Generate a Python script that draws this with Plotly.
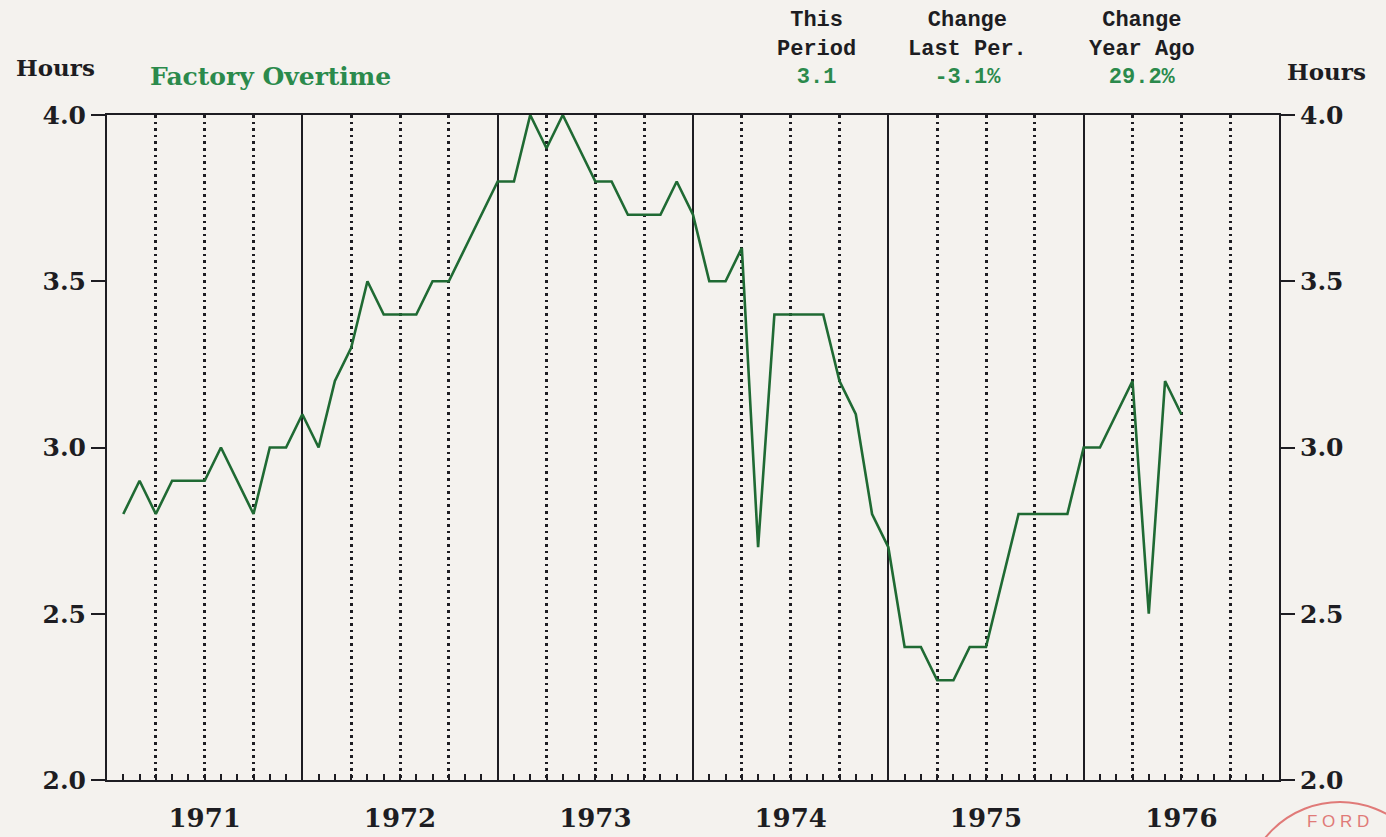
import plotly.graph_objects as go

# ---------------- data ----------------
start_year = 1971
start_month = 2  # first observation: Feb 1971
overtime_hours = [
    # 1971 (Feb-Dec)
    2.8, 2.9, 2.8, 2.9, 2.9, 2.9, 3.0, 2.9, 2.8, 3.0, 3.0,
    # 1972
    3.1, 3.0, 3.2, 3.3, 3.5, 3.4, 3.4, 3.4, 3.5, 3.5, 3.6, 3.7,
    # 1973
    3.8, 3.8, 4.0, 3.9, 4.0, 3.9, 3.8, 3.8, 3.7, 3.7, 3.7, 3.8,
    # 1974
    3.7, 3.5, 3.5, 3.6, 2.7, 3.4, 3.4, 3.4, 3.4, 3.2, 3.1, 2.8,
    # 1975
    2.7, 2.4, 2.4, 2.3, 2.3, 2.4, 2.4, 2.6, 2.8, 2.8, 2.8, 2.8,
    # 1976 (Jan-Jul)
    3.0, 3.0, 3.1, 3.2, 2.5, 3.2, 3.1,
]
year_labels = ["1971", "1972", "1973", "1974", "1975", "1976"]
y_ticks = [2.0, 2.5, 3.0, 3.5, 4.0]
series_name = "Factory Overtime"
unit_label = "Hours"
header_line1 = ["This", "Change", "Change"]
header_line2 = ["Period", "Last Per.", "Year Ago"]

# ---------------- derived ----------------
x_vals = [start_year + (start_month - 1 + i) / 12.0 for i in range(len(overtime_hours))]
last = overtime_hours[-1]
prev = overtime_hours[-2]
year_ago = overtime_hours[-13]
stat_values = [
    f"{last:.1f}",
    f"{(last / prev - 1) * 100:.1f}%",
    f"{(last / year_ago - 1) * 100:.1f}%",
]
label_pos = [int(y) + 0.5 for y in year_labels]

# ---------------- style ----------------
W, H = 1386, 837
L, R, T, B = 107, 107, 115, 57
BG = "#f4f2ee"
INK = "#1d1d22"
GREEN_LINE = "#1f6a33"
GREEN_TEXT = "#2b8a4c"
SERIF = "DejaVu Serif"
MONO = "Liberation Mono"


def px_x(px):
    return (px - L) / (W - L - R)


def px_y(py):
    return (H - B - py) / (H - T - B)


fig = go.Figure()
fig.add_trace(go.Scatter(
    x=x_vals, y=overtime_hours, mode="lines",
    line=dict(color=GREEN_LINE, width=2.6),
    name=series_name, showlegend=False, hoverinfo="x+y",
))
# empty helper traces so that the overlay axes (quarter grid, right scale) are drawn
fig.add_trace(go.Scatter(x=[None], y=[None], xaxis="x2", yaxis="y", mode="lines",
                         showlegend=False, hoverinfo="skip"))
fig.add_trace(go.Scatter(x=[None], y=[None], xaxis="x", yaxis="y2", mode="lines",
                         showlegend=False, hoverinfo="skip"))

x_range = [start_year, start_year + len(year_labels)]
tick_font = dict(family=SERIF, size=25, color=INK, weight="bold")
fig.update_layout(
    width=W, height=H,
    margin=dict(l=L, r=R, t=T, b=B, pad=0, autoexpand=False),
    paper_bgcolor=BG, plot_bgcolor=BG,
    showlegend=False,
    xaxis=dict(
        range=x_range, showgrid=False, zeroline=False, automargin=False,
        tickmode="array", tickvals=label_pos, ticktext=year_labels,
        ticks="inside", ticklen=6, tickwidth=1.5, tickcolor=INK,
        ticklabelstandoff=14,
        tickfont=dict(family=SERIF, size=26, color=INK, weight="bold"),
        showline=True, linecolor=INK, linewidth=2, mirror=True,
        minor=dict(tick0=start_year, dtick=1 / 12, ticks="inside", ticklen=6,
                   tickwidth=1.5, tickcolor=INK, showgrid=False),
    ),
    xaxis2=dict(
        range=x_range, overlaying="x", anchor="y", side="bottom", automargin=False,
        tickmode="linear", tick0=start_year, dtick=1, showticklabels=False, ticks="",
        showgrid=True, gridcolor=INK, gridwidth=2.2, zeroline=False,
        showline=False,
        minor=dict(tick0=start_year, dtick=0.25, showgrid=True, gridcolor=INK,
                   gridwidth=2.6, griddash="2.6px,4px", ticks=""),
    ),
    yaxis=dict(
        range=[2, 4], tickmode="array", tickvals=y_ticks, tickformat=".1f",
        ticks="outside", ticklen=14, tickwidth=2, tickcolor=INK, automargin=False,
        tickfont=tick_font,
        showgrid=False, zeroline=False,
        showline=True, linecolor=INK, linewidth=2,
    ),
    yaxis2=dict(
        range=[2, 4], overlaying="y", side="right", anchor="x", automargin=False,
        tickmode="array", tickvals=y_ticks, tickformat=".1f",
        ticks="outside", ticklen=14, tickwidth=2, tickcolor=INK,
        tickfont=tick_font,
        showgrid=False, zeroline=False,
        showline=True, linecolor=INK, linewidth=2,
    ),
)

ann = []
# left / right unit labels and series title
ann.append(dict(text=unit_label, x=px_x(55), y=px_y(68), xref="paper", yref="paper",
                showarrow=False, xanchor="center", yanchor="middle",
                font=dict(family=SERIF, size=23, color=INK, weight="bold")))
ann.append(dict(text=unit_label, x=px_x(1326), y=px_y(72), xref="paper", yref="paper",
                showarrow=False, xanchor="center", yanchor="middle",
                font=dict(family=SERIF, size=23, color=INK, weight="bold")))
ann.append(dict(text=series_name, x=px_x(148), y=px_y(76), xref="paper", yref="paper",
                showarrow=False, xanchor="left", yanchor="middle",
                font=dict(family=SERIF, size=25, color=GREEN_TEXT, weight="bold")))

# header statistics block: one three-line text per column
col_x = [816, 967, 1142]
for i in range(3):
    txt = (f"{header_line1[i]}<br>{header_line2[i]}<br>"
           f"<span style='color:{GREEN_TEXT}'>{stat_values[i]}</span>")
    ann.append(dict(text=txt, x=px_x(col_x[i]), y=px_y(49), xref="paper", yref="paper",
                    showarrow=False, xanchor="center", yanchor="middle", align="center",
                    font=dict(family=MONO, size=22, color=INK, weight="bold")))

# archival stamp in the corner
STAMP = "#e07a78"
ann.append(dict(text="F O R D", x=px_x(1338), y=px_y(821), xref="paper", yref="paper",
                showarrow=False, xanchor="center", yanchor="middle",
                font=dict(family="Liberation Sans", size=17, color=STAMP)))
fig.update_layout(annotations=ann)
fig.add_shape(type="circle", xref="paper", yref="paper",
              x0=px_x(1244), x1=px_x(1436), y0=px_y(994), y1=px_y(802),
              line=dict(color=STAMP, width=2), layer="above")

fig.write_html(
    "out.html",
    config={"displayModeBar": False},
    post_script="document.body.style.margin='0';document.body.style.overflow='hidden';",
)
